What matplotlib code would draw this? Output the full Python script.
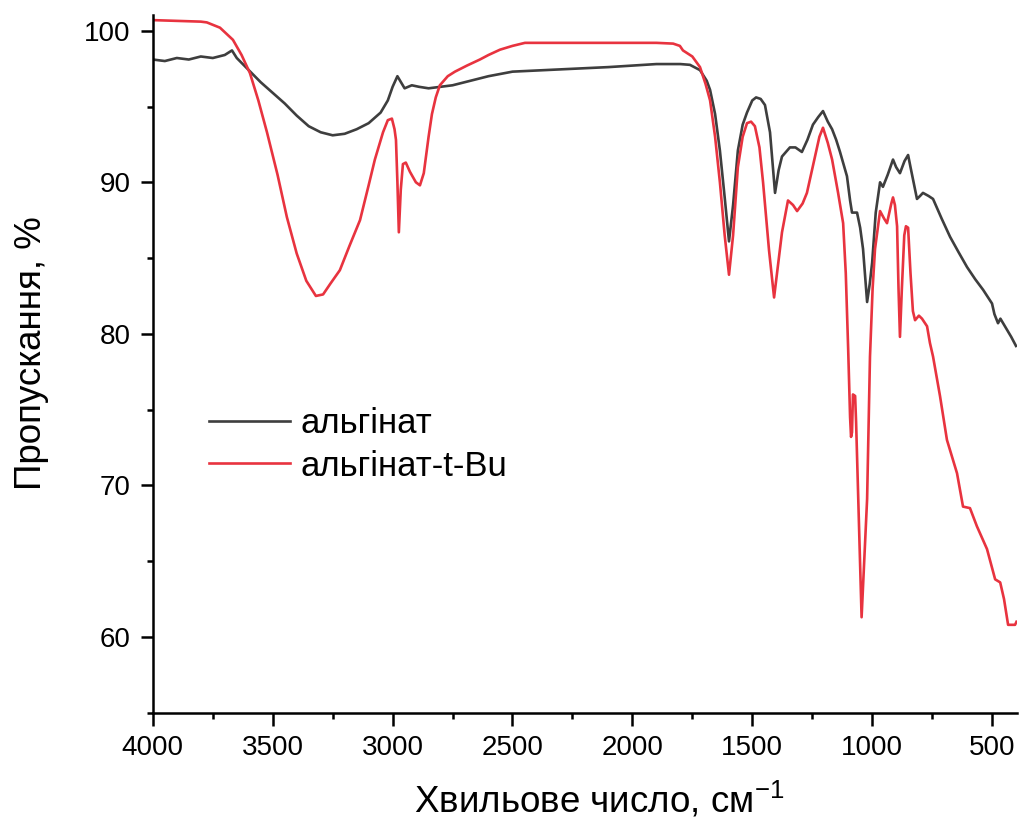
import matplotlib.pyplot as plt
from matplotlib.ticker import MultipleLocator

# альгінат
wn_alg = [4000, 3950, 3900, 3850, 3800, 3750, 3700, 3670, 3650, 3600, 3550, 3500, 3450, 3400,
          3350, 3300, 3250, 3200, 3150, 3100, 3050, 3020, 3000, 2980, 2965, 2950, 2920, 2890,
          2850, 2800, 2750, 2700, 2600, 2500, 2300, 2100, 2000, 1900, 1800, 1760, 1718, 1690,
          1676, 1655, 1635, 1615, 1597, 1580, 1560, 1540, 1522, 1500, 1484, 1465, 1447, 1426,
          1415, 1405, 1390, 1376, 1343, 1320, 1293, 1270, 1247, 1225, 1205, 1185, 1167, 1150,
          1134, 1105, 1092, 1084, 1063, 1050, 1038, 1021, 1010, 1000, 985, 967, 955, 935, 913,
          900, 884, 865, 850, 840, 813, 800, 788, 765, 746, 710, 675, 640, 604, 570, 537, 500,
          490, 475, 465, 450, 420, 400]
t_alg = [98.1, 98.0, 98.2, 98.1, 98.3, 98.2, 98.4, 98.7, 98.2, 97.4, 96.6, 95.9, 95.2, 94.4,
         93.7, 93.3, 93.1, 93.2, 93.5, 93.9, 94.6, 95.4, 96.3, 97.0, 96.6, 96.2, 96.4, 96.3,
         96.2, 96.3, 96.4, 96.6, 97.0, 97.3, 97.45, 97.6, 97.7, 97.8, 97.8, 97.75, 97.4, 96.7,
         96.1, 94.5, 92.1, 89.0, 86.1, 88.5, 92.1, 93.8, 94.6, 95.4, 95.6, 95.5, 95.1, 93.3,
         91.2, 89.3, 90.8, 91.7, 92.3, 92.3, 92.0, 92.8, 93.8, 94.3, 94.7, 94.0, 93.5, 92.8,
         92.0, 90.4, 88.8, 88.0, 88.0, 87.0, 85.6, 82.1, 83.3, 84.7, 88.0, 90.0, 89.7, 90.5, 91.5,
         91.0, 90.6, 91.4, 91.8, 91.0, 88.9, 89.1, 89.3, 89.1, 88.9, 87.6, 86.4, 85.4, 84.4, 83.6,
         82.9, 82.0, 81.3, 80.7, 81.0, 80.6, 79.8, 79.2]

# альгінат-t-Bu
wn_tbu = [4000, 3900, 3800, 3775, 3720, 3666, 3630, 3595, 3560, 3524, 3480, 3441, 3400, 3360,
          3320, 3290, 3260, 3220, 3180, 3136, 3100, 3074, 3040, 3020, 3003, 2992, 2986, 2980,
          2974, 2966, 2957, 2945, 2928, 2903, 2886, 2870, 2865, 2850, 2836, 2820, 2803, 2770,
          2740, 2690, 2636, 2600, 2552, 2500, 2448, 2300, 2100, 1900, 1830, 1802, 1789, 1750,
          1718, 1695, 1676, 1655, 1635, 1615, 1597, 1580, 1560, 1540, 1522, 1505, 1489, 1470,
          1455, 1430, 1409, 1392, 1376, 1351, 1330, 1313, 1290, 1272, 1238, 1220, 1205, 1185,
          1167, 1142, 1121, 1110, 1100, 1092, 1088, 1084, 1080, 1071, 1067, 1055, 1044, 1030,
          1021, 1009, 998, 988, 967, 950, 938, 920, 913, 905, 896, 890, 884, 876, 866, 859, 850,
          840, 830, 821, 805, 792, 771, 759, 746, 717, 688, 646, 621, 592, 563, 521, 487, 466,
          450, 433, 404, 398]
t_tbu = [100.7, 100.65, 100.6, 100.55, 100.2, 99.4, 98.4, 97.2, 95.4, 93.3, 90.5, 87.7, 85.3, 83.5,
         82.5, 82.6, 83.3, 84.2, 85.8, 87.5, 89.8, 91.5, 93.3, 94.1, 94.2, 93.5, 92.8, 90.0,
         86.7, 89.5, 91.2, 91.3, 90.7, 90.0, 89.8, 90.6, 91.2, 93.0, 94.5, 95.6, 96.4, 97.0,
         97.3, 97.7, 98.1, 98.4, 98.75, 99.0, 99.2, 99.2, 99.2, 99.2, 99.15, 99.0, 98.7, 98.3,
         97.6, 96.5, 95.4, 93.0, 90.0, 86.5, 83.9, 86.5, 91.0, 93.0, 93.9, 94.0, 93.7, 92.3,
         90.0, 85.5, 82.4, 84.6, 86.7, 88.8, 88.5, 88.1, 88.6, 89.3, 91.7, 93.0, 93.6, 92.6,
         91.5, 89.3, 87.3, 84.0, 79.0, 74.5, 73.2, 73.5, 76.0, 75.9, 74.2, 67.5, 61.3, 66.0,
         69.1, 78.5, 83.0, 85.6, 88.1, 87.6, 87.3, 88.6, 89.0, 88.5, 87.1, 83.0, 79.8, 83.0, 86.5,
         87.1, 87.0, 84.0, 81.5, 80.9, 81.2, 81.0, 80.5, 79.4, 78.5, 75.9, 73.0, 70.8, 68.6, 68.5,
         67.3, 65.8, 63.8, 63.6, 62.5, 60.8, 60.8, 61.0]

plt.rcParams['font.family'] = ['Liberation Sans', 'DejaVu Sans']
plt.rcParams['mathtext.fontset'] = 'custom'
plt.rcParams['mathtext.rm'] = 'Liberation Sans'
plt.rcParams['mathtext.default'] = 'regular'

fig = plt.figure(figsize=(10.19, 8.23), dpi=100)
ax = fig.add_axes([0.150, 0.134, 0.848, 0.848])

ax.plot(wn_alg, t_alg, color='#3e3e3e', linewidth=1.9, label='альгінат')
ax.plot(wn_tbu, t_tbu, color='#e8333f', linewidth=1.9, label='альгінат-t-Bu')

ax.set_xlim(4000, 396)
ax.set_ylim(55, 101.05)
ax.xaxis.set_major_locator(MultipleLocator(500))
ax.xaxis.set_minor_locator(MultipleLocator(250))
ax.yaxis.set_minor_locator(MultipleLocator(5))
ax.set_yticks([60, 70, 80, 90, 100])

for s in ['top', 'right']:
    ax.spines[s].set_visible(False)
for s in ['left', 'bottom']:
    ax.spines[s].set_linewidth(1.8)

ax.tick_params(which='major', direction='out', length=9, width=1.8, labelsize=20, pad=7)
ax.tick_params(which='minor', direction='out', length=4.5, width=1.8)

ax.set_xlabel('Хвильове число, см$^{-1}$', fontsize=26.5)
ax.set_ylabel('Пропускання, %', fontsize=26.5)
ax.xaxis.set_label_coords(0.516, -0.097)
ax.yaxis.set_label_coords(-0.120, 0.515)

ax.legend(loc='center left', bbox_to_anchor=(0.065, 0.384), frameon=False, fontsize=25,
          handlelength=2.33, handletextpad=0.3, labelspacing=0.28, borderaxespad=0, borderpad=0)

fig.savefig('out.png')
